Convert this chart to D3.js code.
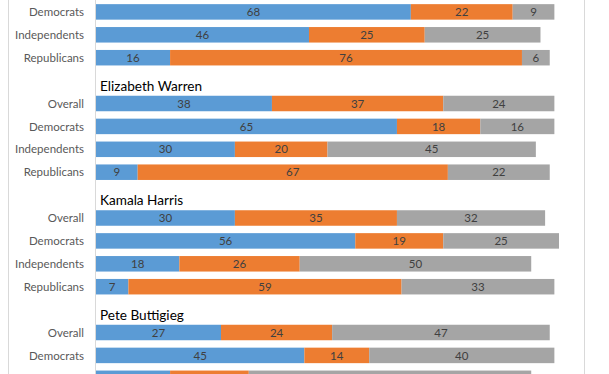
<!DOCTYPE html>
<html>
<head>
<meta charset="utf-8">
<script src="https://cdn.jsdelivr.net/npm/d3@7"></script>
<style>
  html, body { margin: 0; padding: 0; background: #fff; overflow: hidden; }
  svg { display: block; font-family: Lato, "Open Sans", sans-serif; }
</style>
</head>
<body>
<svg id="chart" width="609" height="374"></svg>
<script>
// candidate groups (first one is cut off at the top of the picture)
const candidates = ['', 'Elizabeth Warren', 'Kamala Harris', 'Pete Buttigieg'];
const groupRows = [
  ['Democrats', 'Independents', 'Republicans'],
  ['Overall', 'Democrats', 'Independents', 'Republicans'],
  ['Overall', 'Democrats', 'Independents', 'Republicans'],
  ['Overall', 'Democrats', 'Independents']
];
// series values, row by row in the order above
const favorable   = [68, 46, 16,  38, 65, 30, 9,  30, 56, 18, 7,  27, 45, 16];
const unfavorable = [22, 25, 76,  37, 18, 20, 67, 35, 19, 26, 59, 24, 14, 17];
const noOpinion   = [9, 25, 6,    24, 16, 45, 22, 32, 25, 50, 33, 47, 40, 61];
const seriesKeys = ['favorable', 'unfavorable', 'noOpinion'];
const colors = ['#5B9BD5', '#ED7D31', '#A5A5A5'];

const W = 609, H = 374;

// build the row list: a title slot before every named candidate
const rows = [];
let k = 0;
candidates.forEach((name, gi) => {
  if (name) rows.push({ id: 'title-' + gi, title: name });
  groupRows[gi].forEach(label => {
    rows.push({
      id: 'row-' + k, label,
      favorable: favorable[k], unfavorable: unfavorable[k], noOpinion: noOpinion[k]
    });
    k++;
  });
});
const barRows = rows.filter(r => !r.title);

const svg = d3.select('#chart');
const step = 22.9;
const pad = 0.323;
const y0 = 0.45;

const x = d3.scaleLinear().domain([0, 100]).range([96, 559]);
const y = d3.scaleBand()
  .domain(rows.map(r => r.id))
  .range([y0, y0 + rows.length * step])
  .paddingInner(pad)
  .paddingOuter(pad / 2);

const mid = id => y(id) + y.bandwidth() / 2;
// rows whose text would fall below the visible area are clipped in the original
const inView = id => mid(id) + 6 < H;

// chart area borders
svg.append('line').attr('x1', 8.5).attr('x2', 8.5).attr('y1', 0).attr('y2', H)
  .attr('stroke', '#d9d9d9');
svg.append('line').attr('x1', 584.5).attr('x2', 584.5).attr('y1', 0).attr('y2', H)
  .attr('stroke', '#d9d9d9');

const stack = d3.stack().keys(seriesKeys)(barRows);

const layers = svg.append('g').selectAll('g')
  .data(stack)
  .enter().append('g')
  .attr('fill', (d, i) => colors[i]);

layers.selectAll('rect')
  .data(d => d)
  .enter().append('rect')
  .attr('x', d => x(d[0]))
  .attr('y', d => y(d.data.id))
  .attr('width', d => x(d[1]) - x(d[0]))
  .attr('height', y.bandwidth());

// value labels
layers.selectAll('text')
  .data(d => d.filter(s => inView(s.data.id)))
  .enter().append('text')
  .attr('x', d => (x(d[0]) + x(d[1])) / 2)
  .attr('y', d => mid(d.data.id))
  .attr('dy', '0.36em')
  .attr('text-anchor', 'middle')
  .attr('fill', '#404040')
  .style('font-size', '11.5px')
  .text(d => d[1] - d[0]);

// category axis line
svg.append('line').attr('x1', 95.5).attr('x2', 95.5).attr('y1', 0).attr('y2', H)
  .attr('stroke', '#d9d9d9');

// category labels
svg.append('g').selectAll('text')
  .data(barRows.filter(r => inView(r.id)))
  .enter().append('text')
  .attr('x', 84)
  .attr('y', d => mid(d.id))
  .attr('dy', '0.36em')
  .attr('text-anchor', 'end')
  .attr('fill', '#595959')
  .style('font-size', '11.5px')
  .text(d => d.label);

// candidate titles, sitting just above the first bar of each group
svg.append('g').selectAll('text')
  .data(rows.filter(r => r.title))
  .enter().append('text')
  .attr('x', 100)
  .attr('y', d => y(d.id) + step - 4.8)
  .attr('fill', '#000')
  .style('font-size', '13.6px')
  .text(d => d.title);
</script>
</body>
</html>
